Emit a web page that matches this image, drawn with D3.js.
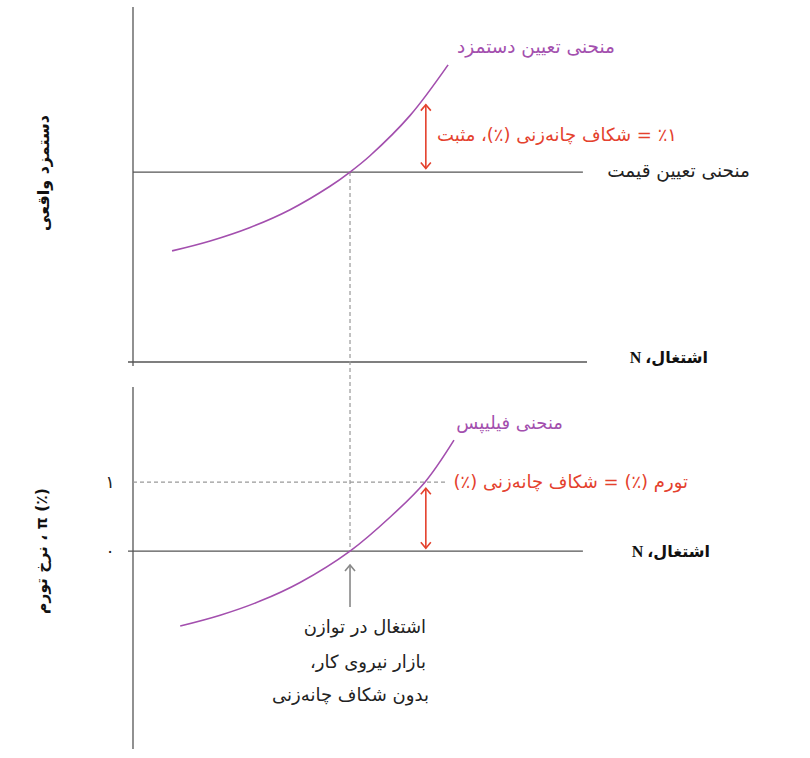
<!DOCTYPE html>
<html><head><meta charset="utf-8">
<script src="https://cdn.jsdelivr.net/npm/d3@7"></script>
<style>
body{margin:0;background:#fff;}
text{font-family:"DejaVu Sans",sans-serif;}
</style></head>
<body>
<svg id="c" width="810" height="758"></svg>
<script>
// ---------- data ----------
// Upper panel: wage-setting curve (employment N, real wage w)
const wageN = [8.6, 17.0, 25.8, 34.6, 43.4, 47.8, 52.2, 61.0, 69.4];
const wageW = [31.3, 34.1, 37.9, 42.9, 49.5, 53.5, 58.1, 69.4, 83.7];
const priceW = 53.5;               // price-setting real wage (horizontal)
const priceN = [0, 99.1];
// Lower panel: Phillips curve (employment N, inflation pi)
const philN  = [10.4, 19.2, 28.0, 36.8, 47.8, 56.6, 64.3, 70.7];
const philPi = [-1.087, -0.93, -0.725, -0.455, 0, 0.491, 1, 1.61];
const eqN = 47.8;                  // equilibrium employment
const gapN = 64.5;                 // employment where gap is shown
const gapTopW = 72.5, gapBotW = 54.5;
const gapPiTop = 0.91, gapPiBot = 0.04;
const piTicks = [0, 1];
const piTickLabels = ["۰", "۱"];
const dashEndN = 69.2;

const purple = "#a34fae", red = "#e4412d", axisCol = "#555", dashCol = "#999";

const svg = d3.select("#c");
const x = d3.scaleLinear().domain([0, 100]).range([133, 587]);
const yW = d3.scaleLinear().domain([0, 100]).range([362, 7]);
const yP = d3.scaleLinear().domain([-2.87, 2.38]).range([749, 387]);

// axes (upper)
svg.append("line").attr("x1", x(0)).attr("x2", x(0)).attr("y1", yW(100)).attr("y2", yW(0) + 4)
  .attr("stroke", axisCol).attr("stroke-width", 1.3);
svg.append("line").attr("x1", x(0) - 5).attr("x2", x(100)).attr("y1", yW(0)).attr("y2", yW(0))
  .attr("stroke", axisCol).attr("stroke-width", 1.3);
// axes (lower)
svg.append("line").attr("x1", x(0)).attr("x2", x(0)).attr("y1", yP(2.38)).attr("y2", yP(-2.87))
  .attr("stroke", axisCol).attr("stroke-width", 1.3);
svg.append("line").attr("x1", x(0) - 5).attr("x2", x(99.1)).attr("y1", yP(0)).attr("y2", yP(0))
  .attr("stroke", axisCol).attr("stroke-width", 1.3);

// ticks lower
const gT = svg.append("g").attr("transform", `translate(${x(0) - 23},0)`);
gT.selectAll("text").data(piTicks).join("text")
  .attr("x", 0).attr("y", d => yP(d) + 6).attr("text-anchor", "middle")
  .attr("font-size", 17).attr("fill", "#222")
  .text((d, i) => piTickLabels[i]);

// dashed lines
svg.append("line").attr("x1", x(eqN)).attr("x2", x(eqN)).attr("y1", yW(priceW)).attr("y2", yP(0))
  .attr("stroke", dashCol).attr("stroke-width", 1.2).attr("stroke-dasharray", "4,3");
svg.append("line").attr("x1", x(0)).attr("x2", x(dashEndN)).attr("y1", yP(1)).attr("y2", yP(1))
  .attr("stroke", dashCol).attr("stroke-width", 1.2).attr("stroke-dasharray", "4,3");

// price-setting line
svg.append("line").attr("x1", x(priceN[0])).attr("x2", x(priceN[1])).attr("y1", yW(priceW)).attr("y2", yW(priceW))
  .attr("stroke", axisCol).attr("stroke-width", 1.3);

// curves
const lineW = d3.line().x((d, i) => x(wageN[i])).y(d => yW(d)).curve(d3.curveCatmullRom);
svg.append("path").attr("d", lineW(wageW)).attr("fill", "none").attr("stroke", purple).attr("stroke-width", 1.6);
const lineP = d3.line().x((d, i) => x(philN[i])).y(d => yP(d)).curve(d3.curveCatmullRom);
svg.append("path").attr("d", lineP(philPi)).attr("fill", "none").attr("stroke", purple).attr("stroke-width", 1.6);

// arrows
function arrow(xp, y1, y2, col, both) {
  svg.append("line").attr("x1", xp).attr("x2", xp).attr("y1", y1).attr("y2", y2)
    .attr("stroke", col).attr("stroke-width", 1.6);
  const h = 6, w = 5;
  svg.append("path").attr("d", `M${xp - w},${y1 + h}L${xp},${y1}L${xp + w},${y1 + h}`)
    .attr("fill", "none").attr("stroke", col).attr("stroke-width", 1.6);
  if (both) svg.append("path").attr("d", `M${xp - w},${y2 - h}L${xp},${y2}L${xp + w},${y2 - h}`)
    .attr("fill", "none").attr("stroke", col).attr("stroke-width", 1.6);
}
arrow(x(gapN), yW(gapTopW), yW(gapBotW), red, true);
arrow(x(gapN), yP(gapPiTop), yP(gapPiBot), red, true);
arrow(x(eqN), yP(-0.2), yP(-0.81), "#888", false);

// text helper (rtl, right-anchored)
function rtext(xr, yb, str, size, col, weight) {
  return svg.append("text").attr("x", xr).attr("y", yb).attr("direction", "rtl")
    .attr("text-anchor", "start").attr("font-size", size).attr("fill", col)
    .attr("font-weight", weight || "normal").text(str);
}
rtext(615, 53, "منحنی تعیین دستمزد", 18.5, purple);
rtext(677, 141, "٪۱ = شکاف چانه‌زنی (٪)، مثبت", 18, red);
rtext(750, 177, "منحنی تعیین قیمت", 18.5, "#222");
rtext(708, 363, "اشتغال، N", 16, "#111", "bold").style("font-family", "'Liberation Serif','DejaVu Sans'");
rtext(563, 429, "منحنی فیلیپس", 18, purple);
rtext(688, 488, "تورم (٪) = شکاف چانه‌زنی (٪)", 18, red);
rtext(710, 557, "اشتغال، N", 16, "#111", "bold").style("font-family", "'Liberation Serif','DejaVu Sans'");
rtext(426, 633, "اشتغال در توازن", 18, "#222");
rtext(426, 668, "بازار نیروی کار،", 18, "#222");
rtext(429, 701, "بدون شکاف چانه‌زنی", 18, "#222");

// rotated axis titles
svg.append("text").attr("transform", "translate(49,173) rotate(-90)").attr("direction", "rtl")
  .attr("text-anchor", "middle").attr("font-size", 16).attr("font-weight", "bold").attr("fill", "#111")
  .text("دستمزد واقعی");
svg.append("text").attr("transform", "translate(47,551) rotate(-90)").attr("direction", "rtl")
  .attr("text-anchor", "middle").attr("font-size", 15.5).attr("font-weight", "bold").attr("fill", "#111")
  .text("(٪) π ، نرخ تورم");
</script>
</body></html>
